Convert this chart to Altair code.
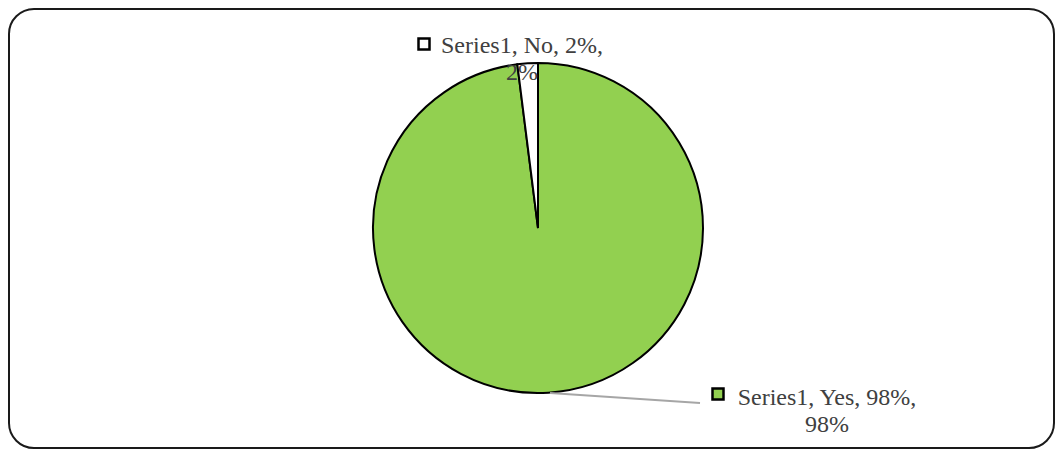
import altair as alt
import pandas as pd

categories = ["Yes", "No"]
values = [98, 2]
series_name = "Series1"

colors = ["#92D050", "#FFFFFF"]

df = pd.DataFrame({
    "category": categories,
    "value": values,
    "order": list(range(len(categories))),
})
df["label"] = [f"{series_name}, {c}, {v}%,\n{v}%" for c, v in zip(categories, values)]

W, H = 1047, 441
CX, CY, R = 530, 220, 165

pie = alt.Chart(df).mark_arc(outerRadius=R, stroke="black", strokeWidth=2).encode(
    theta=alt.Theta("value:Q", stack=True),
    order=alt.Order("order:Q"),
    color=alt.Color("category:N", scale=alt.Scale(domain=categories, range=colors), legend=None),
    x=alt.value(CX),
    y=alt.value(CY),
)

# label positions (annotation layout)
lab_pos = {"No": (514, 45, 416, 36), "Yes": (819, 397, 710, 386)}

layers = [pie]

# leader line for Yes label
leader = alt.Chart(df[df.category == "Yes"]).mark_rule(color="#A6A6A6", strokeWidth=2).encode(
    x=alt.value(542), y=alt.value(385), x2=alt.value(692), y2=alt.value(395)
)
layers.append(leader)

for i, cat in enumerate(categories):
    tx, ty, kx, ky = lab_pos[cat]
    sub = df[df.category == cat]
    key = alt.Chart(sub).mark_square(size=121, stroke="black", strokeWidth=2.5, opacity=1).encode(
        x=alt.value(kx), y=alt.value(ky),
        fill=alt.value(colors[i]),
    )
    txt = alt.Chart(sub).mark_text(
        font="Liberation Serif", fontSize=24, color="#404040",
        align="center", baseline="alphabetic", lineBreak="\n", lineHeight=27,
    ).encode(x=alt.value(tx), y=alt.value(ty), text="label:N")
    layers += [key, txt]

border = alt.Chart(df.head(1)).mark_rect(
    fill="transparent", stroke="#1a1a1a", strokeWidth=2, cornerRadius=25
).encode(x=alt.value(1), x2=alt.value(W - 1), y=alt.value(1), y2=alt.value(H - 1))
layers.append(border)

chart = alt.layer(*layers).properties(
    width=W, height=H, padding=0, autosize=alt.AutoSizeParams(type="none")
).configure_view(stroke=None)

chart.save("out.html", embed_options={"renderer": "svg", "actions": False})
